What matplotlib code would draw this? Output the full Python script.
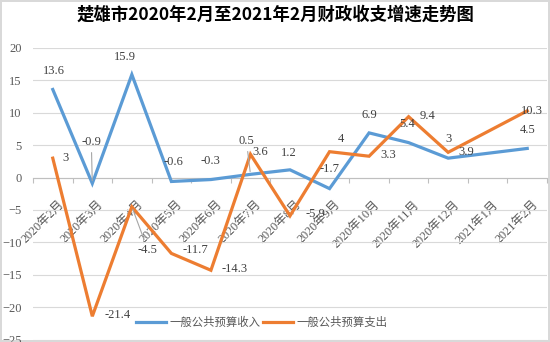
import matplotlib.pyplot as plt
import numpy as np
from matplotlib.transforms import ScaledTranslation

plt.rcParams['font.family'] = ['Liberation Serif', 'Noto Sans CJK SC']

# データ
months = ["2020年2月", "2020年3月", "2020年4月", "2020年5月", "2020年6月",
          "2020年7月", "2020年8月", "2020年9月", "2020年10月", "2020年11月",
          "2020年12月", "2021年1月", "2021年2月"]
income = [13.6, -0.9, 15.9, -0.6, -0.3, 0.5, 1.2, -1.7, 6.9, 5.4, 3.0, np.nan, 4.5]
expense = [3.0, -21.4, -4.5, -11.7, -14.3, 3.6, -5.9, 4.0, 3.3, 9.4, 3.9, np.nan, 10.3]
series_names = ["一般公共预算收入", "一般公共预算支出"]

# ラベル位置(offset pixels)
income_offsets = [(1, 18), (-1, 41), (-7, 18), (2, 19), (0, 19), (-4, 33), (-1, 17),
                  (0, 20), (0, 18), (-1, 19), (0, 19), None, (0, 18)]
expense_offsets = [(13, 0), (25, 1), (16, -43), (24, 3), (24, 1), (10, 2), (25, 2),
                   (11, 13), (19, 1), (19, 1), (18, 0), None, (5, 0)]
leader_income = {1, 5}
leader_expense = {2}

BLUE = "#5B9BD5"
ORANGE = "#ED7D31"
GRAY_TXT = "#595959"
GRID = "#D9D9D9"

fig = plt.figure(figsize=(5.5, 3.42), dpi=100)
fig.patch.set_edgecolor(GRID)
fig.patch.set_linewidth(1.5)
ax = fig.add_axes([33 / 550, 1 - 339.6 / 342, 514 / 550, 291.6 / 342])

x = np.arange(len(months))


def draw_series(values, color, name, offsets, leaders):
    v = np.array(values, dtype=float)
    ok = ~np.isnan(v)
    ax.plot(x[ok], v[ok], color=color, lw=2.3, zorder=3, label=name,
            solid_joinstyle="miter")
    for i in np.where(ok)[0]:
        off = offsets[i]
        txt = f"{v[i]:g}"
        props = None
        if i in leaders:
            props = dict(arrowstyle="-", color="#A6A6A6", lw=0.8,
                         shrinkA=1, shrinkB=2)
        ax.annotate(txt, (x[i], v[i]), xytext=off, textcoords="offset pixels",
                    ha="center", va="center", fontsize=9, color="#404040",
                    zorder=4, arrowprops=props)


draw_series(income, BLUE, series_names[0], income_offsets, leader_income)
draw_series(expense, ORANGE, series_names[1], expense_offsets, leader_expense)

ax.set_xlim(-0.5, len(months) - 0.5)
ax.set_ylim(-25, 20)
ax.set_yticks(np.arange(-25, 21, 5))
ax.yaxis.grid(True, color=GRID, lw=0.8, zorder=0)
ax.set_axisbelow(True)

for s in ["top", "right", "left"]:
    ax.spines[s].set_visible(False)
ax.spines["bottom"].set_position(("data", 0))
ax.spines["bottom"].set_color("#BFBFBF")
ax.spines["bottom"].set_linewidth(0.8)

ax.set_xticks(x)
ax.set_xticklabels(months)
ax.set_xticks(np.arange(-0.5, len(months), 1), minor=True)
ax.tick_params(axis="x", which="major", length=0, pad=15, labelsize=8.8,
               labelcolor=GRAY_TXT)
ax.tick_params(axis="x", which="minor", length=3.5, width=0.8, color="#BFBFBF",
               direction="out")
ax.tick_params(axis="y", length=0, pad=8, labelsize=9, labelcolor=GRAY_TXT)

shift = ScaledTranslation(5 / 100, 0, fig.dpi_scale_trans)
for lab in ax.get_xticklabels():
    lab.set_rotation(45)
    lab.set_ha("right")
    lab.set_va("top")
    lab.set_rotation_mode("anchor")
    lab.set_transform(lab.get_transform() + shift)

leg = ax.legend(loc="center", bbox_to_anchor=(0.445, 0.06), ncol=2, frameon=False,
                handlelength=2.6, handletextpad=0.3, columnspacing=0.3,
                prop=dict(family=["Noto Sans CJK SC"], size=8.2))
for t in leg.get_texts():
    t.set_color(GRAY_TXT)

fig.text(275 / 550, 1 - 15 / 342, "楚雄市2020年2月至2021年2月财政收支增速走势图",
         ha="center", va="center", fontsize=12.5, fontweight="bold",
         family=["Noto Sans CJK SC"], color="black")

fig.savefig("out.png", dpi=100)
